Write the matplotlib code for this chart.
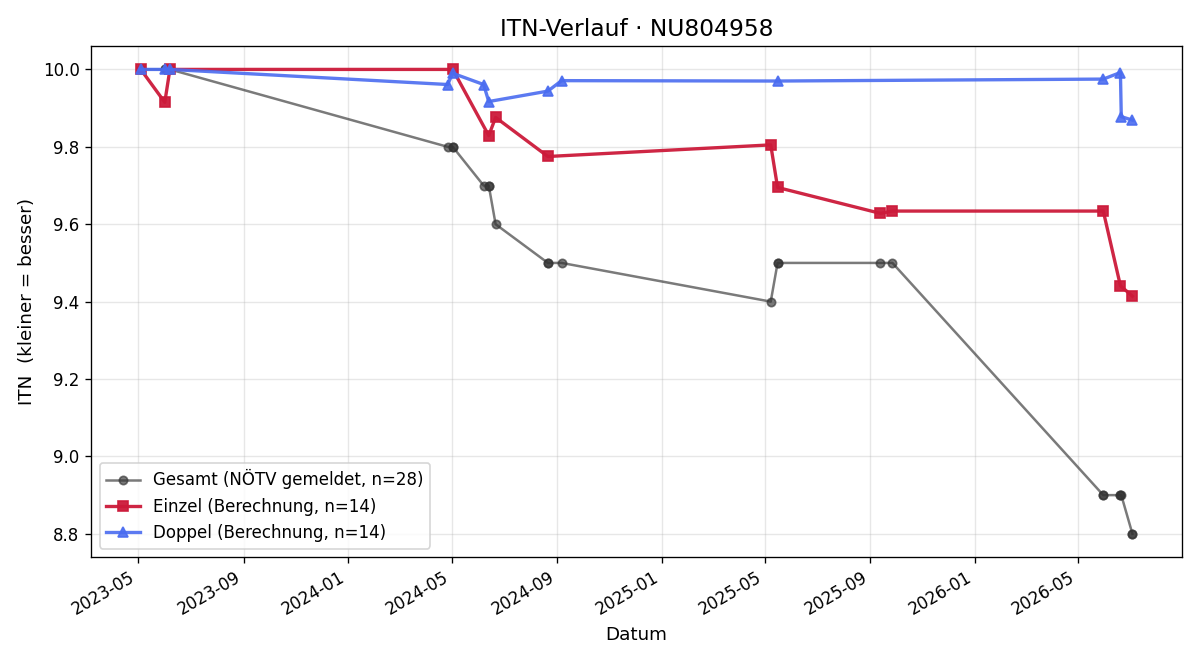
import matplotlib
matplotlib.use("Agg")
import matplotlib.pyplot as plt
import matplotlib.dates as mdates
import numpy as np

# Einzel (Berechnung)
einzel_dates = ["2023-05-04", "2023-06-01", "2023-06-07", "2024-05-02", "2024-06-13",
                "2024-06-21", "2024-08-21", "2025-05-08", "2025-05-16", "2025-09-13",
                "2025-09-27", "2026-05-31", "2026-06-20", "2026-07-04"]
einzel_itn = [10.0, 9.915, 10.0, 10.0, 9.829, 9.876, 9.775, 9.805, 9.695, 9.628,
              9.634, 9.634, 9.441, 9.414]

# Doppel (Berechnung)
doppel_dates = ["2023-05-04", "2023-06-01", "2023-06-07", "2024-04-26", "2024-05-02",
                "2024-06-07", "2024-06-13", "2024-08-21", "2024-09-06", "2025-05-16",
                "2026-05-31", "2026-06-20", "2026-06-21", "2026-07-04"]
doppel_itn = [10.0, 10.0, 10.0, 9.961, 9.99, 9.961, 9.917, 9.944, 9.971, 9.970,
              9.975, 9.992, 9.878, 9.869]

# Gesamt (NÖTV gemeldet)
gesamt_dates = ["2023-05-04", "2023-05-04", "2023-06-01", "2023-06-01", "2023-06-07",
                "2023-06-07", "2024-04-26", "2024-05-02", "2024-05-02", "2024-06-07",
                "2024-06-13", "2024-06-13", "2024-06-21", "2024-08-21", "2024-08-21",
                "2024-09-06", "2025-05-08", "2025-05-16", "2025-05-16", "2025-09-13",
                "2025-09-27", "2026-05-31", "2026-05-31", "2026-06-20", "2026-06-20",
                "2026-06-21", "2026-07-04", "2026-07-04"]
gesamt_itn = [10.0, 10.0, 10.0, 10.0, 10.0, 10.0, 9.8, 9.8, 9.8, 9.7,
              9.7, 9.7, 9.6, 9.5, 9.5, 9.5, 9.4, 9.5, 9.5, 9.5,
              9.5, 8.9, 8.9, 8.9, 8.9, 8.9, 8.8, 8.8]

def to_dt(lst):
    return np.array(lst, dtype="datetime64[D]")

fig, ax = plt.subplots(figsize=(10, 5.5), dpi=120)

ax.plot(to_dt(gesamt_dates), gesamt_itn, color="#333333", alpha=0.65, lw=1.5,
        marker="o", ms=5, label="Gesamt (NÖTV gemeldet, n=%d)" % len(gesamt_itn))
ax.plot(to_dt(einzel_dates), einzel_itn, color="#cc1a3a", alpha=0.95, lw=2,
        marker="s", ms=6, label="Einzel (Berechnung, n=%d)" % len(einzel_itn))
ax.plot(to_dt(doppel_dates), doppel_itn, color="#4a6cf0", alpha=0.9, lw=2,
        marker="^", ms=6, label="Doppel (Berechnung, n=%d)" % len(doppel_itn))

ax.set_title("ITN-Verlauf · NU804958", fontsize=14)
ax.set_xlabel("Datum", fontsize=11)
ax.set_ylabel("ITN  (kleiner = besser)", fontsize=11)
ax.xaxis.set_major_locator(mdates.MonthLocator(bymonth=[1, 5, 9]))
ax.xaxis.set_major_formatter(mdates.DateFormatter("%Y-%m"))
ax.set_yticks(np.arange(8.8, 10.01, 0.2))
ax.grid(True, alpha=0.3)
ax.legend(loc="lower left", fontsize=10)
fig.autofmt_xdate()
fig.subplots_adjust(left=0.076, right=0.985, top=0.930, bottom=0.156)
fig.savefig("out.png")
